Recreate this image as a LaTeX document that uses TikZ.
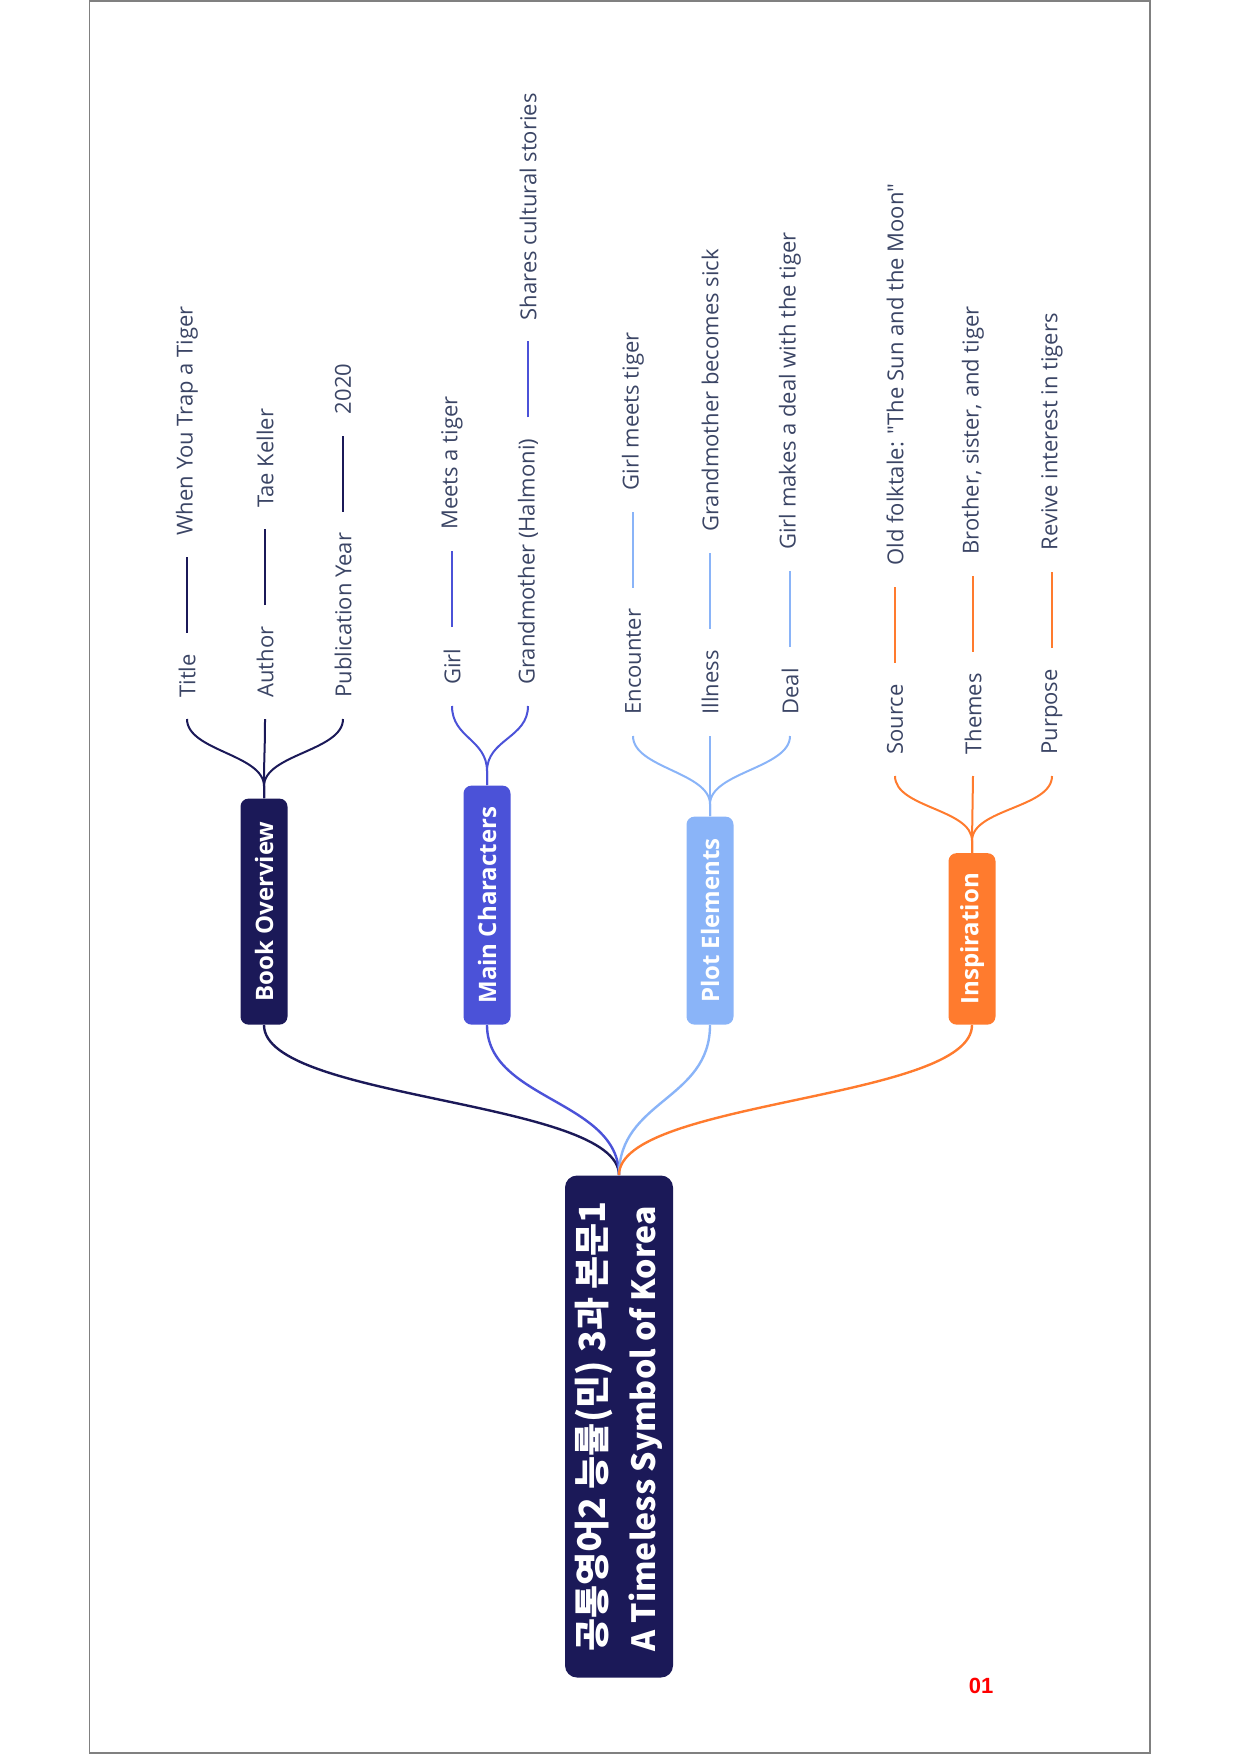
\documentclass[tikz,border=0pt]{standalone}
\usepackage{fontspec}
\setmainfont{Open Sans}
\newfontfamily\leaffont{Open Sans}
\newfontfamily\krfont{Noto Sans CJK KR}
\newfontfamily\numfont{Liberation Sans}
\usetikzlibrary{positioning}

\definecolor{navy}{HTML}{1B1958}
\definecolor{mcblue}{HTML}{4B52D8}
\definecolor{sky}{HTML}{8AB4F8}
\definecolor{tiger}{HTML}{FF7B2E}
\definecolor{leaftext}{HTML}{3B4565}

\tikzset{
  rootbox/.style={fill=navy, rounded corners=6pt, text=white, align=left,
    font=\krfont\bfseries, inner xsep=12.5pt, minimum width=251pt, minimum height=54pt},
  branch/.style={rounded corners=4pt, text=white, anchor=west,
    font=\bfseries\fontsize{12}{14}\selectfont, minimum height=23.5pt, inner xsep=10pt},
  leaf/.style={text=leaftext, anchor=west, font=\leaffont\fontsize{11}{13}\selectfont,
    inner xsep=10.5pt, inner ysep=2pt},
  link/.style={line width=1.2pt},
  twig/.style={line width=1pt}
}

\begin{document}
\begin{tikzpicture}[x=0.5pt,y=0.5pt]
\useasboundingbox (0,0) rectangle (1240,-1754);
\draw[line width=0.75pt, black!50] (89.5,-1) rectangle (1150,-1753);

\begin{scope}[shift={(1240,-1754)},rotate=90,transform shape]
% root
\node[rootbox] (root) at (327.5,621) {\fontsize{18}{21}\selectfont 공통영어2 능률(민) 3과 본문1\\[7pt]
  \fontsize{16}{19}\selectfont A Timeless Symbol of Korea};

% main branches
\node[branch, fill=navy, minimum width=113pt] (bo) at (729,976) {Book Overview};
\node[branch, fill=mcblue, minimum width=119.5pt] (mc) at (729,753) {Main Characters};
\node[branch, fill=sky, minimum width=104pt] (pe) at (729,530) {Plot Elements};
\node[branch, fill=tiger, minimum width=84.5pt] (insp) at (729,268) {Inspiration};

\draw[link, navy] (root.east) .. controls +(75,0) and +(-75,0) .. (bo.west);
\draw[link, mcblue] (root.east) .. controls +(75,0) and +(-75,0) .. (mc.west);
\draw[link, sky] (root.east) .. controls +(75,0) and +(-75,0) .. (pe.west);
\draw[link, tiger] (root.east) .. controls +(75,0) and +(-75,0) .. (insp.west);

% book overview
\foreach \nm/\v/\lab/\val in {title/1053/Title/When You Trap a Tiger,
    author/975/Author/Tae Keller, year/897/Publication Year/2020}{
  \node[leaf] (\nm) at (1035,\v) {\lab};
  \node[leaf, right=38pt of \nm] (\nm-v) {\val};
  \draw[twig, navy] (bo.east) -- ++(12,0) .. controls +(32,0) and +(-32,0) .. (\nm.west);
  \draw[twig, navy] (\nm) -- (\nm-v);
}

% main characters
\foreach \nm/\v/\lab/\val in {girl/788/Girl/Meets a tiger,
    halmoni/712/Grandmother (Halmoni)/Shares cultural stories}{
  \node[leaf] (\nm) at (1048,\v) {\lab};
  \node[leaf, right=38pt of \nm] (\nm-v) {\val};
  \draw[twig, mcblue] (mc.east) -- ++(14,0) .. controls +(32,0) and +(-32,0) .. (\nm.west);
  \draw[twig, mcblue] (\nm) -- (\nm-v);
}

% plot elements
\foreach \nm/\v/\lab/\val in {enc/607/Encounter/Girl meets tiger,
    ill/530/Illness/Grandmother becomes sick, deal/450/Deal/Girl makes a deal with the tiger}{
  \node[leaf] (\nm) at (1018,\v) {\lab};
  \node[leaf, right=38pt of \nm] (\nm-v) {\val};
  \draw[twig, sky] (pe.east) -- ++(12,0) .. controls +(32,0) and +(-32,0) .. (\nm.west);
  \draw[twig, sky] (\nm) -- (\nm-v);
}

% inspiration
\foreach \nm/\v/\lab/\val in {src/345/Source/Old folktale: "The Sun and the Moon",
    themes/267/Themes/{Brother, sister, and tiger}, purpose/188/Purpose/Revive interest in tigers}{
  \node[leaf] (\nm) at (978,\v) {\lab};
  \node[leaf, right=38pt of \nm] (\nm-v) {\val};
  \draw[twig, tiger] (insp.east) -- ++(12,0) .. controls +(32,0) and +(-32,0) .. (\nm.west);
  \draw[twig, tiger] (\nm) -- (\nm-v);
}
\end{scope}

\node[text=red, font=\numfont\bfseries\fontsize{11}{13}\selectfont] (pagenum) at (981,-1686) {01};
\end{tikzpicture}
\end{document}
